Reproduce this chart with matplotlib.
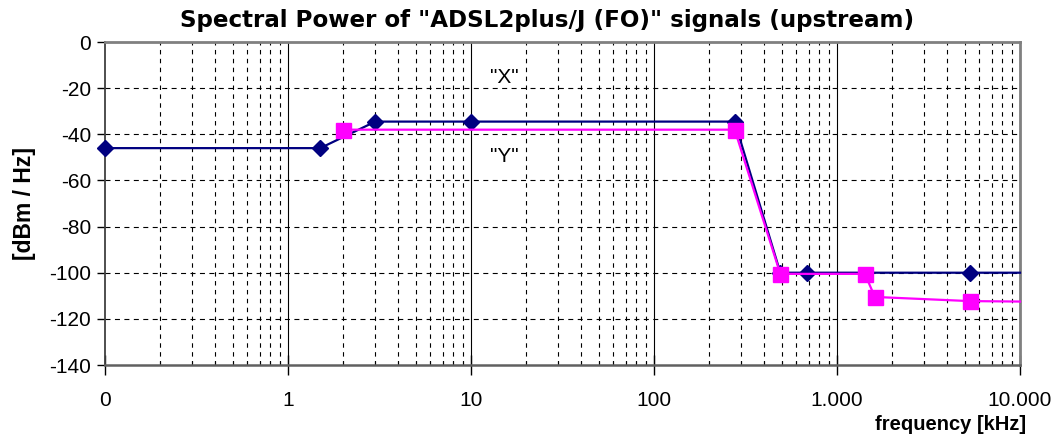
import matplotlib
matplotlib.use("Agg")
import matplotlib.pyplot as plt
from matplotlib.ticker import FixedLocator, FuncFormatter, NullFormatter
import numpy as np

plt.rcParams['font.family'] = ['Liberation Sans', 'DejaVu Sans']

# Data
x_freq = [0.1, 1.5, 3, 10, 276, 490, 686, 5300, 10000]
x_level = [-46, -46, -34.5, -34.5, -34.5, -100, -100, -100, -100]
y_freq = [2, 276, 490, 1420, 1610, 5300, 10000]
y_level = [-38, -38, -100.5, -100.5, -110.5, -112.3, -112.5]
x_ticks = [0.1, 1, 10, 100, 1000, 10000]
x_tick_labels = ["0", "1", "10", "100", "1.000", "10.000"]
y_ticks = [0, -20, -40, -60, -80, -100, -120, -140]

fig = plt.figure(figsize=(10.55, 4.36), dpi=100)
ax = fig.add_axes([105/1055, 1-365/436, (1020-105)/1055, (365-42)/436])

ax.set_xscale('log')
ax.set_xlim(0.1, 10000)
ax.set_ylim(-140, 0)

# gridlines
minor_pos = [m * 10.0**e for e in range(-1, 4) for m in range(2, 10)]
for v in minor_pos:
    ax.axvline(v, color='black', lw=0.8, dashes=(4, 4), zorder=1)
for v in [1, 10, 100, 1000]:
    ax.axvline(v, color='black', lw=0.8, zorder=1)
for v in y_ticks[1:-1]:
    ax.axhline(v, color='black', lw=0.8, dashes=(4.5, 4), zorder=1)

# series
ax.plot(x_freq, x_level, color='#000080', lw=1.6, marker='D', ms=7.8,
        markevery=list(range(len(x_freq) - 1)), zorder=3, clip_on=False)
ax.plot(y_freq, y_level, color='#FF00FF', lw=1.6, marker='s', ms=10.8,
        markevery=list(range(len(y_freq) - 1)), zorder=4, clip_on=False)

ax.text(15.3, -15.6, '"X"', ha='center', va='center', fontsize=15)
ax.text(15.3, -49.8, '"Y"', ha='center', va='center', fontsize=15)

# ticks
label_map = dict(zip(x_ticks, x_tick_labels))
ax.xaxis.set_major_locator(FixedLocator(x_ticks))
ax.xaxis.set_major_formatter(FuncFormatter(
    lambda v, p: label_map.get(min(x_ticks, key=lambda t: abs(np.log10(t) - np.log10(v))), "")))
ax.xaxis.set_minor_locator(FixedLocator(minor_pos))
ax.xaxis.set_minor_formatter(NullFormatter())
ax.set_yticks(y_ticks)
ax.set_yticklabels([str(v) for v in y_ticks])
ax.tick_params(axis='x', which='major', direction='inout', length=14, width=1, pad=12, labelsize=15)
ax.tick_params(axis='x', which='minor', direction='in', length=3, width=0.8)
ax.tick_params(axis='y', which='major', direction='out', length=6, width=1, pad=4, labelsize=15)

for s in ['top', 'right']:
    ax.spines[s].set_color('#808080')
    ax.spines[s].set_linewidth(2)
ax.spines['left'].set_color('#404040')
ax.spines['left'].set_linewidth(1.3)
ax.spines['bottom'].set_color('#606060')
ax.spines['bottom'].set_linewidth(1.8)

fig.text(547/1055, 1-21/436, 'Spectral Power of "ADSL2plus/J (FO)" signals (upstream)',
         ha='center', va='center', fontsize=16.6, fontweight='bold', family='DejaVu Sans')
fig.text(25/1055, 1-203/436, '[dBm / Hz]', ha='center', va='center', rotation=90,
         fontsize=16.5, fontweight='bold')
fig.text(1026/1055, 1-424/436, 'frequency [kHz]', ha='right', va='center',
         fontsize=14.5, fontweight='bold')

fig.savefig('out.png', dpi=100)
